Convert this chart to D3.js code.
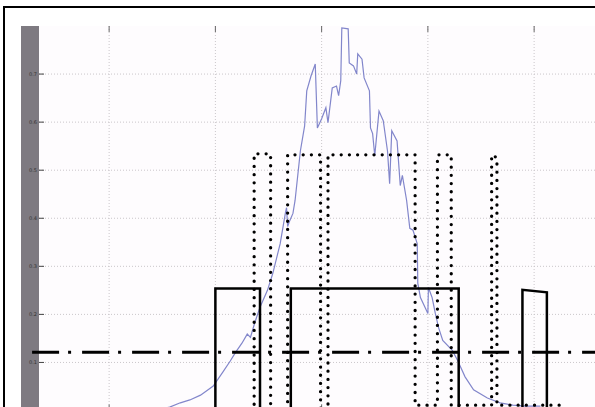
<!DOCTYPE html>
<html>
<head>
<meta charset="utf-8">
<script src="https://cdn.jsdelivr.net/npm/d3@7"></script>
<style>
    body { margin: 0; background: #fff; }
    svg { display: block; }
    .tick-label { font-family: "DejaVu Sans", sans-serif; font-size: 5px; fill: #333; }
</style>
</head>
<body>
<div id="chart"></div>
<script>
// 坐标轴刻度
let xTicks = [100, 200, 300, 400, 500];
let yTicks = [0.1, 0.2, 0.3, 0.4, 0.5, 0.6, 0.7];
let yTickLabels = ["0.1", "0.2", "0.3", "0.4", "0.5", "0.6", "0.7"];

// 蓝色曲线
let curveX = [148, 157, 167, 176, 186, 198, 207, 214, 219, 225, 230, 233, 237, 242, 249, 254, 261, 266, 267, 268,
    270, 273, 275, 280, 284, 286, 290, 294, 296, 300, 304, 306, 310, 314, 316, 318, 319, 325, 326, 330,
    333, 334, 338, 340, 345, 346, 348, 350, 354, 358, 362, 364, 366, 371, 374, 376, 380, 383, 386, 390,
    390.5, 393, 400, 400.5, 404, 407, 410, 414, 423, 428, 435, 443, 456, 468, 480, 492, 506];
let curveY = [0.003, 0.007, 0.016, 0.022, 0.032, 0.051, 0.080, 0.103, 0.121, 0.140, 0.159, 0.152, 0.182, 0.215, 0.250, 0.285, 0.347, 0.412, 0.422, 0.383,
    0.395, 0.410, 0.437, 0.540, 0.592, 0.665, 0.696, 0.721, 0.588, 0.607, 0.630, 0.599, 0.671, 0.675, 0.655, 0.686, 0.796, 0.794, 0.723, 0.717,
    0.700, 0.742, 0.731, 0.692, 0.665, 0.588, 0.576, 0.530, 0.623, 0.603, 0.540, 0.472, 0.582, 0.561, 0.468, 0.489, 0.437, 0.379, 0.375, 0.347,
    0.265, 0.235, 0.202, 0.256, 0.235, 0.202, 0.173, 0.146, 0.125, 0.104, 0.070, 0.043, 0.026, 0.016, 0.011, 0.009, 0.009];

// 实线（阶跃）
let stepX = [34, 200, 200, 242, 242, 271, 271, 429, 429, 489, 489, 512, 512, 560];
let stepY = [0, 0, 0.254, 0.254, 0, 0, 0.254, 0.254, 0, 0, 0.251, 0.246, 0, 0];

// 点线（阶跃）
let dotX = [34, 236.5, 236.5, 252, 252, 268, 268, 299, 299, 306, 306, 388, 388, 409, 409, 422, 422, 460, 460, 465, 465, 526];
let dotY = [0, 0, 0.534, 0.534, 0, 0, 0.532, 0.532, 0, 0, 0.532, 0.532, 0.011, 0.011, 0.532, 0.532, 0.011, 0.011, 0.532, 0.526, 0.011, 0.011];

// 点划线阈值
let thresholdX = [27.5, 560];
let thresholdValue = 0.121;

let width = 595;
let height = 407;
let plot = {left: 39, top: 26, right: 620, bottom: 410.5};

let svg = d3.select("#chart")
    .append("svg")
    .attr("width", width)
    .attr("height", height);

let xScale = d3.scaleLinear()
    .domain([34, 34 + (plot.right - plot.left) / 1.0625])
    .range([plot.left, plot.right]);

let yScale = d3.scaleLinear()
    .domain([0, 0.8])
    .range([plot.bottom, plot.top]);

// 外框
svg.append("rect")
    .attr("x", 4).attr("y", 7)
    .attr("width", 640).attr("height", 440)
    .attr("fill", "#fff")
    .attr("stroke", "#000")
    .attr("stroke-width", 2);

// 绘图区背景
svg.append("rect")
    .attr("x", plot.left).attr("y", plot.top)
    .attr("width", plot.right - plot.left).attr("height", plot.bottom - plot.top)
    .attr("fill", "#fefcfe");

// 左侧灰条
svg.append("rect")
    .attr("x", 21).attr("y", plot.top)
    .attr("width", plot.left - 21).attr("height", 420 - plot.top)
    .attr("fill", "#7e7a81");

// 网格线
svg.selectAll(".grid-x")
    .data(xTicks)
    .enter()
    .append("line")
    .attr("x1", d => xScale(d)).attr("x2", d => xScale(d))
    .attr("y1", plot.top).attr("y2", plot.bottom)
    .attr("stroke", "#cac6ca")
    .attr("stroke-dasharray", "1 2");

svg.selectAll(".grid-y")
    .data(yTicks)
    .enter()
    .append("line")
    .attr("x1", plot.left).attr("x2", plot.right)
    .attr("y1", d => yScale(d)).attr("y2", d => yScale(d))
    .attr("stroke", "#cac6ca")
    .attr("stroke-dasharray", "1 2");

// 刻度线
svg.selectAll(".tick-top")
    .data(xTicks)
    .enter()
    .append("line")
    .attr("x1", d => xScale(d)).attr("x2", d => xScale(d))
    .attr("y1", plot.top).attr("y2", plot.top + 6)
    .attr("stroke", "#666");

svg.selectAll(".tick-bottom")
    .data(xTicks)
    .enter()
    .append("line")
    .attr("x1", d => xScale(d)).attr("x2", d => xScale(d))
    .attr("y1", plot.bottom - 6).attr("y2", plot.bottom)
    .attr("stroke", "#666");

svg.selectAll(".tick-left")
    .data(yTicks)
    .enter()
    .append("line")
    .attr("x1", plot.left).attr("x2", plot.left + 5)
    .attr("y1", d => yScale(d)).attr("y2", d => yScale(d))
    .attr("stroke", "#444");

svg.selectAll(".tick-label")
    .data(yTicks)
    .enter()
    .append("text")
    .attr("class", "tick-label")
    .attr("x", plot.left - 2)
    .attr("y", d => yScale(d))
    .attr("dy", "0.35em")
    .attr("text-anchor", "end")
    .text((d, i) => yTickLabels[i]);

let line = d3.line()
    .x(d => xScale(d[0]))
    .y(d => yScale(d[1]));

// 蓝色曲线
svg.append("path")
    .datum(d3.zip(curveX, curveY))
    .attr("d", line)
    .attr("fill", "none")
    .attr("stroke", "#8286cb")
    .attr("stroke-width", 1.2);

// 点划线
svg.append("path")
    .datum(thresholdX.map(x => [x, thresholdValue]))
    .attr("d", line)
    .attr("fill", "none")
    .attr("stroke", "#000")
    .attr("stroke-width", 3)
    .attr("stroke-dasharray", "27 9 3 11");

// 点线
svg.append("path")
    .datum(d3.zip(dotX, dotY))
    .attr("d", line)
    .attr("fill", "none")
    .attr("stroke", "#000")
    .attr("stroke-width", 3.3)
    .attr("stroke-linecap", "round")
    .attr("stroke-dasharray", "0 8.2");

// 实线
svg.append("path")
    .datum(d3.zip(stepX, stepY))
    .attr("d", line)
    .attr("fill", "none")
    .attr("stroke", "#000")
    .attr("stroke-width", 2.5);
</script>
</body>
</html>
